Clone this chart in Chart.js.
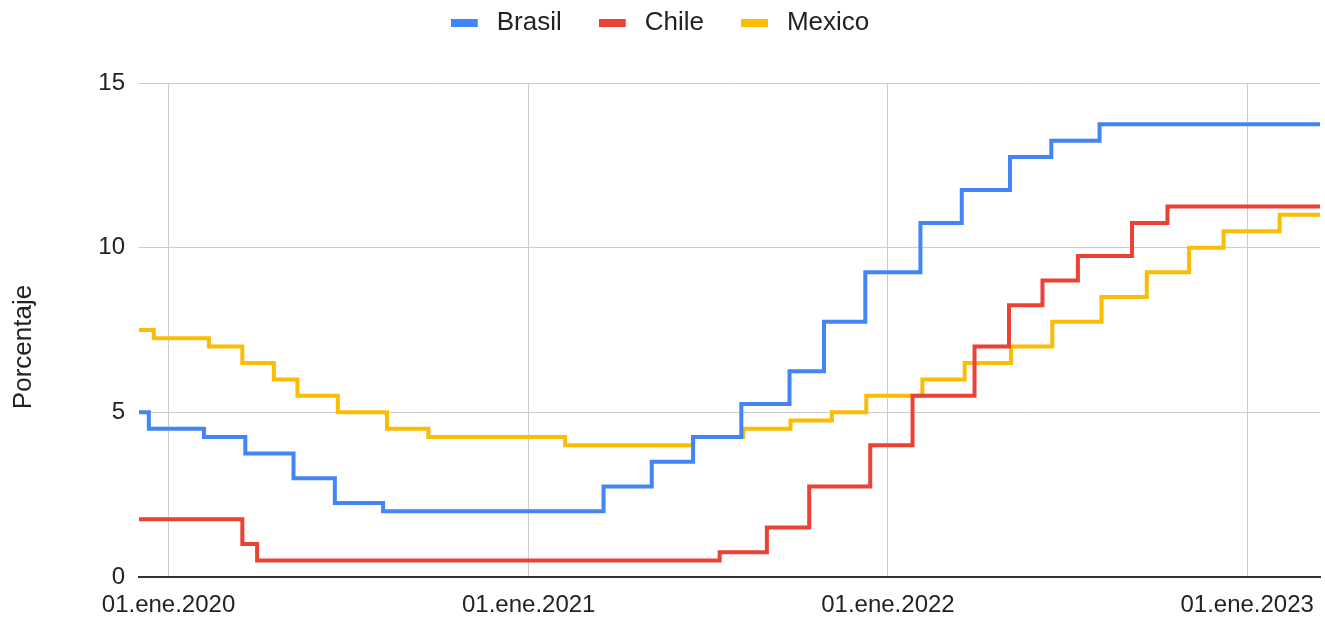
<!DOCTYPE html>
<html>
<head>
<meta charset="utf-8">
<script src="https://cdn.jsdelivr.net/npm/chart.js@4/dist/chart.umd.min.js"></script>
<style>
  html, body { margin: 0; padding: 0; background: #ffffff; }
  #wrap { width: 1325px; height: 618px; position: relative; }
</style>
</head>
<body>
<div id="wrap"><canvas id="c" width="1325" height="618"></canvas></div>
<script>
// Policy interest rates (%), one point per rate change; the last point holds the level to the end.
const brasilDates = ['2019-12-02','2019-12-12','2020-02-06','2020-03-19','2020-05-07','2020-06-18','2020-08-06',
  '2021-03-18','2021-05-06','2021-06-17','2021-08-05','2021-09-23','2021-10-28','2021-12-09',
  '2022-02-03','2022-03-17','2022-05-05','2022-06-16','2022-08-04','2023-03-16'];
const brasilValues = [5.0, 4.5, 4.25, 3.75, 3.0, 2.25, 2.0,
  2.75, 3.5, 4.25, 5.25, 6.25, 7.75, 9.25,
  10.75, 11.75, 12.75, 13.25, 13.75, 13.75];

const chileDates = ['2019-12-02','2020-03-16','2020-03-31','2021-07-14','2021-08-31','2021-10-13','2021-12-14',
  '2022-01-26','2022-03-30','2022-05-04','2022-06-07','2022-07-13','2022-09-06','2022-10-12','2023-03-16'];
const chileValues = [1.75, 1.0, 0.5, 0.75, 1.5, 2.75, 4.0,
  5.5, 7.0, 8.25, 9.0, 9.75, 10.75, 11.25, 11.25];

const mexicoDates = ['2019-12-02','2019-12-17','2020-02-11','2020-03-16','2020-04-17','2020-05-11','2020-06-21',
  '2020-08-10','2020-09-21','2021-02-07','2021-06-17','2021-08-07','2021-09-24','2021-11-05','2021-12-10',
  '2022-02-05','2022-03-20','2022-05-06','2022-06-17','2022-08-06','2022-09-21','2022-11-03','2022-12-08',
  '2023-02-03','2023-03-16'];
const mexicoValues = [7.5, 7.25, 7.0, 6.5, 6.0, 5.5, 5.0,
  4.5, 4.25, 4.0, 4.25, 4.5, 4.75, 5.0, 5.5,
  6.0, 6.5, 7.0, 7.75, 8.5, 9.25, 10.0, 10.5,
  11.0, 11.0];

const seriesNames = ['Brasil', 'Chile', 'Mexico'];
const seriesColors = ['#4285F4', '#EA4335', '#FBBC04'];
const tickYears = [2020, 2021, 2022, 2023];
const monthAbbr = 'ene';
const yTicks = [0, 5, 10, 15];
const axisTitle = 'Porcentaje';
const rangeStart = '2019-12-02';
const rangeEnd = '2023-03-16';

const toMs = d => Date.parse(d + 'T00:00:00Z');
const toPoints = (dates, values) => dates.map((d, i) => ({ x: toMs(d), y: values[i] }));

const FONT = '"Liberation Sans", Arial, sans-serif';
const TEXT = '#222222';

// Legend swatch: a flat bar sitting at the left of a slightly wider slot.
const swatch = color => {
  const cv = document.createElement('canvas');
  cv.width = 33; cv.height = 8;
  const g = cv.getContext('2d');
  g.fillStyle = color;
  g.fillRect(0, 0, 27, 8);
  return cv;
};

const datasets = [
  toPoints(brasilDates, brasilValues),
  toPoints(chileDates, chileValues),
  toPoints(mexicoDates, mexicoValues)
].map((pts, i) => ({
  label: seriesNames[i],
  data: pts,
  borderColor: seriesColors[i],
  backgroundColor: seriesColors[i],
  pointStyle: swatch(seriesColors[i]),
  borderWidth: 4,
  pointRadius: 0,
  pointHoverRadius: 0,
  stepped: true,
  tension: 0,
  fill: false
}));

// Reserve a fixed band for the legend so the plot starts below it.
const legendBand = {
  id: 'legendBand',
  beforeInit(chart) {
    const lg = chart.legend;
    if (!lg) return;
    const fit = lg.fit.bind(lg);
    lg.fit = function () { fit(); this.height = 110; };
  }
};

// Vertical axis title beside the value axis.
const yTitle = {
  id: 'yTitle',
  afterDraw(chart) {
    const ctx = chart.ctx;
    ctx.save();
    ctx.translate(24, 347);
    ctx.rotate(-Math.PI / 2);
    ctx.fillStyle = TEXT;
    ctx.font = '26px ' + FONT;
    ctx.textAlign = 'center';
    ctx.textBaseline = 'middle';
    ctx.fillText(axisTitle, 0, 0);
    ctx.restore();
  }
};

new Chart(document.getElementById('c'), {
  type: 'line',
  data: { datasets },
  plugins: [legendBand, yTitle],
  options: {
    responsive: false,
    animation: false,
    layout: { padding: { left: 0, right: 5, top: -27, bottom: 0 } },
    plugins: {
      tooltip: { enabled: false },
      legend: {
        position: 'top',
        align: 'center',
        labels: {
          usePointStyle: true,
          pointStyleWidth: 33,
          boxHeight: 8,
          padding: 37,
          color: TEXT,
          font: { family: FONT, size: 26 }
        }
      }
    },
    scales: {
      x: {
        type: 'linear',
        min: toMs(rangeStart),
        max: toMs(rangeEnd),
        afterBuildTicks: s => { s.ticks = tickYears.map(y => ({ value: Date.UTC(y, 0, 1) })); },
        afterFit: s => { s.height = 41; s.paddingLeft = 0; s.paddingRight = 0; },
        ticks: {
          autoSkip: false,
          maxRotation: 0,
          padding: 14,
          color: TEXT,
          font: { family: FONT, size: 24 },
          callback: v => '01.' + monthAbbr + '.' + new Date(v).getUTCFullYear()
        },
        grid: { color: '#cccccc', lineWidth: 1, drawTicks: false },
        border: { display: true, color: '#333333', width: 2 }
      },
      y: {
        min: 0,
        max: 15,
        afterBuildTicks: s => { s.ticks = yTicks.map(v => ({ value: v })); },
        afterFit: s => { s.width = 139; },
        ticks: {
          padding: 14,
          color: TEXT,
          font: { family: FONT, size: 24 }
        },
        grid: {
          color: c => (c.tick && c.tick.value === 0) ? 'rgba(0,0,0,0)' : '#cccccc',
          lineWidth: 1,
          drawTicks: false
        },
        border: { display: false }
      }
    }
  }
});
</script>
</body>
</html>
